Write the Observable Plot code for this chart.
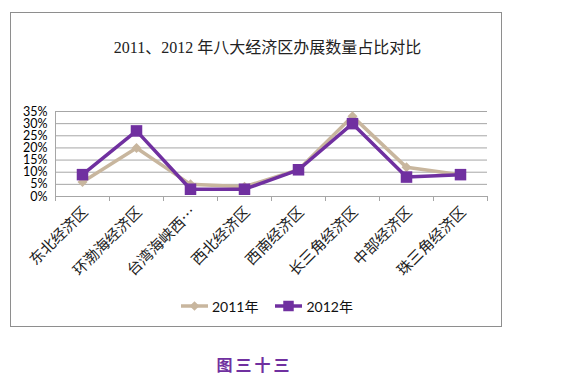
<!DOCTYPE html>
<html><head><meta charset="utf-8">
<script src="https://cdn.jsdelivr.net/npm/d3@7"></script>
<script src="https://cdn.jsdelivr.net/npm/@observablehq/plot@0.6"></script>
<style>
body{margin:0;background:#fff;}
#wrap{position:relative;width:573px;height:379px;overflow:hidden;}
#frame{position:absolute;left:10px;top:12px;width:490px;height:313px;border:1.5px solid #8e8e8e;}
#title{position:absolute;left:0;width:535px;top:34px;text-align:center;font:16px "Liberation Serif","Noto Sans CJK SC",serif;color:#222;}
#chart{position:absolute;left:0;top:0;}
#legend{position:absolute;left:180px;top:296px;display:flex;align-items:center;font:14px Lato,"Noto Sans CJK SC",sans-serif;color:#111;}
#legend .it{display:flex;align-items:center;margin-right:16px;}
#caption{position:absolute;left:0;width:509px;top:352px;text-align:center;font:bold 16px "Noto Sans CJK SC",sans-serif;color:#7030A0;letter-spacing:3px;}
</style></head>
<body><div id="wrap">
<div id="frame"></div>
<div id="title">2011、2012 年八大经济区办展数量占比对比</div>
<div id="chart"></div>
<div id="legend"></div>
<div id="caption">图三十三</div>
</div>
<script>
const categories = ["东北经济区","环渤海经济区","台湾海峡西…","西北经济区","西南经济区","长三角经济区","中部经济区","珠三角经济区"];
const share2011 = [6, 20, 5, 4, 11, 33, 12, 9];
const share2012 = [9, 27, 3, 3, 11, 30, 8, 9];
const yTicks = [0, 5, 10, 15, 20, 25, 30, 35];
const seriesNames = ["2011年", "2012年"];
const colors = ["#C8B69E", "#7030A0"];

const idx = categories.map((d, i) => i);
const d2011 = idx.map(i => ({i, v: share2011[i]}));
const d2012 = idx.map(i => ({i, v: share2012[i]}));
const bounds = d3.range(-0.5, categories.length, 1);

const plot = Plot.plot({
  width: 573, height: 300,
  marginTop: 111, marginBottom: 104, marginLeft: 55, marginRight: 86,
  x: {type: "linear", domain: [-0.5, categories.length - 0.5], axis: null},
  y: {domain: [0, 35], axis: null},
  marks: [
    Plot.ruleY(yTicks, {stroke: "#a6a6a6", strokeWidth: 1}),
    Plot.ruleX([-0.5], {y1: 0, y2: 35, stroke: "#a6a6a6"}),
    Plot.ruleX(bounds, {y1: 0, y2: 0, insetBottom: -5, stroke: "#a6a6a6"}),
    Plot.text(yTicks, {x: -0.5, y: d => d, text: d => d + "%", textAnchor: "end", dx: -8, fontSize: 12.5, fill: "#000", fontFamily: "Lato, sans-serif"}),
    Plot.text(idx, {x: d => d, y: 0, text: d => categories[d], rotate: -45, textAnchor: "end", dx: 3, dy: 13, fontSize: 15, fill: "#222", fontFamily: "'Noto Sans CJK SC', sans-serif"}),
    Plot.line(d2011, {x: "i", y: "v", stroke: colors[0], strokeWidth: 3.5}),
    Plot.dot(d2011, {x: "i", y: "v", symbol: "diamond2", r: 4.5, fill: colors[0], stroke: "none"}),
    Plot.line(d2012, {x: "i", y: "v", stroke: colors[1], strokeWidth: 3.5}),
    Plot.dot(d2012, {x: "i", y: "v", symbol: "square", r: 6.5, fill: colors[1], stroke: "none"})
  ]
});
document.getElementById("chart").appendChild(plot);

const legend = document.getElementById("legend");
const sizes = [60, 110];
seriesNames.forEach((name, k) => {
  const it = document.createElement("div");
  it.className = "it";
  const svg = d3.create("svg").attr("width", 30).attr("height", 14);
  svg.append("line").attr("x1", 1).attr("x2", 28).attr("y1", 7).attr("y2", 7).attr("stroke", colors[k]).attr("stroke-width", 3.5);
  svg.append("path").attr("transform", "translate(14.5,7)").attr("d", d3.symbol(k === 0 ? d3.symbolDiamond2 : d3.symbolSquare, sizes[k])()).attr("fill", colors[k]);
  it.appendChild(svg.node());
  const s = document.createElement("span");
  s.textContent = name;
  s.style.marginLeft = "2px";
  it.appendChild(s);
  legend.appendChild(it);
});
</script>
</body></html>
